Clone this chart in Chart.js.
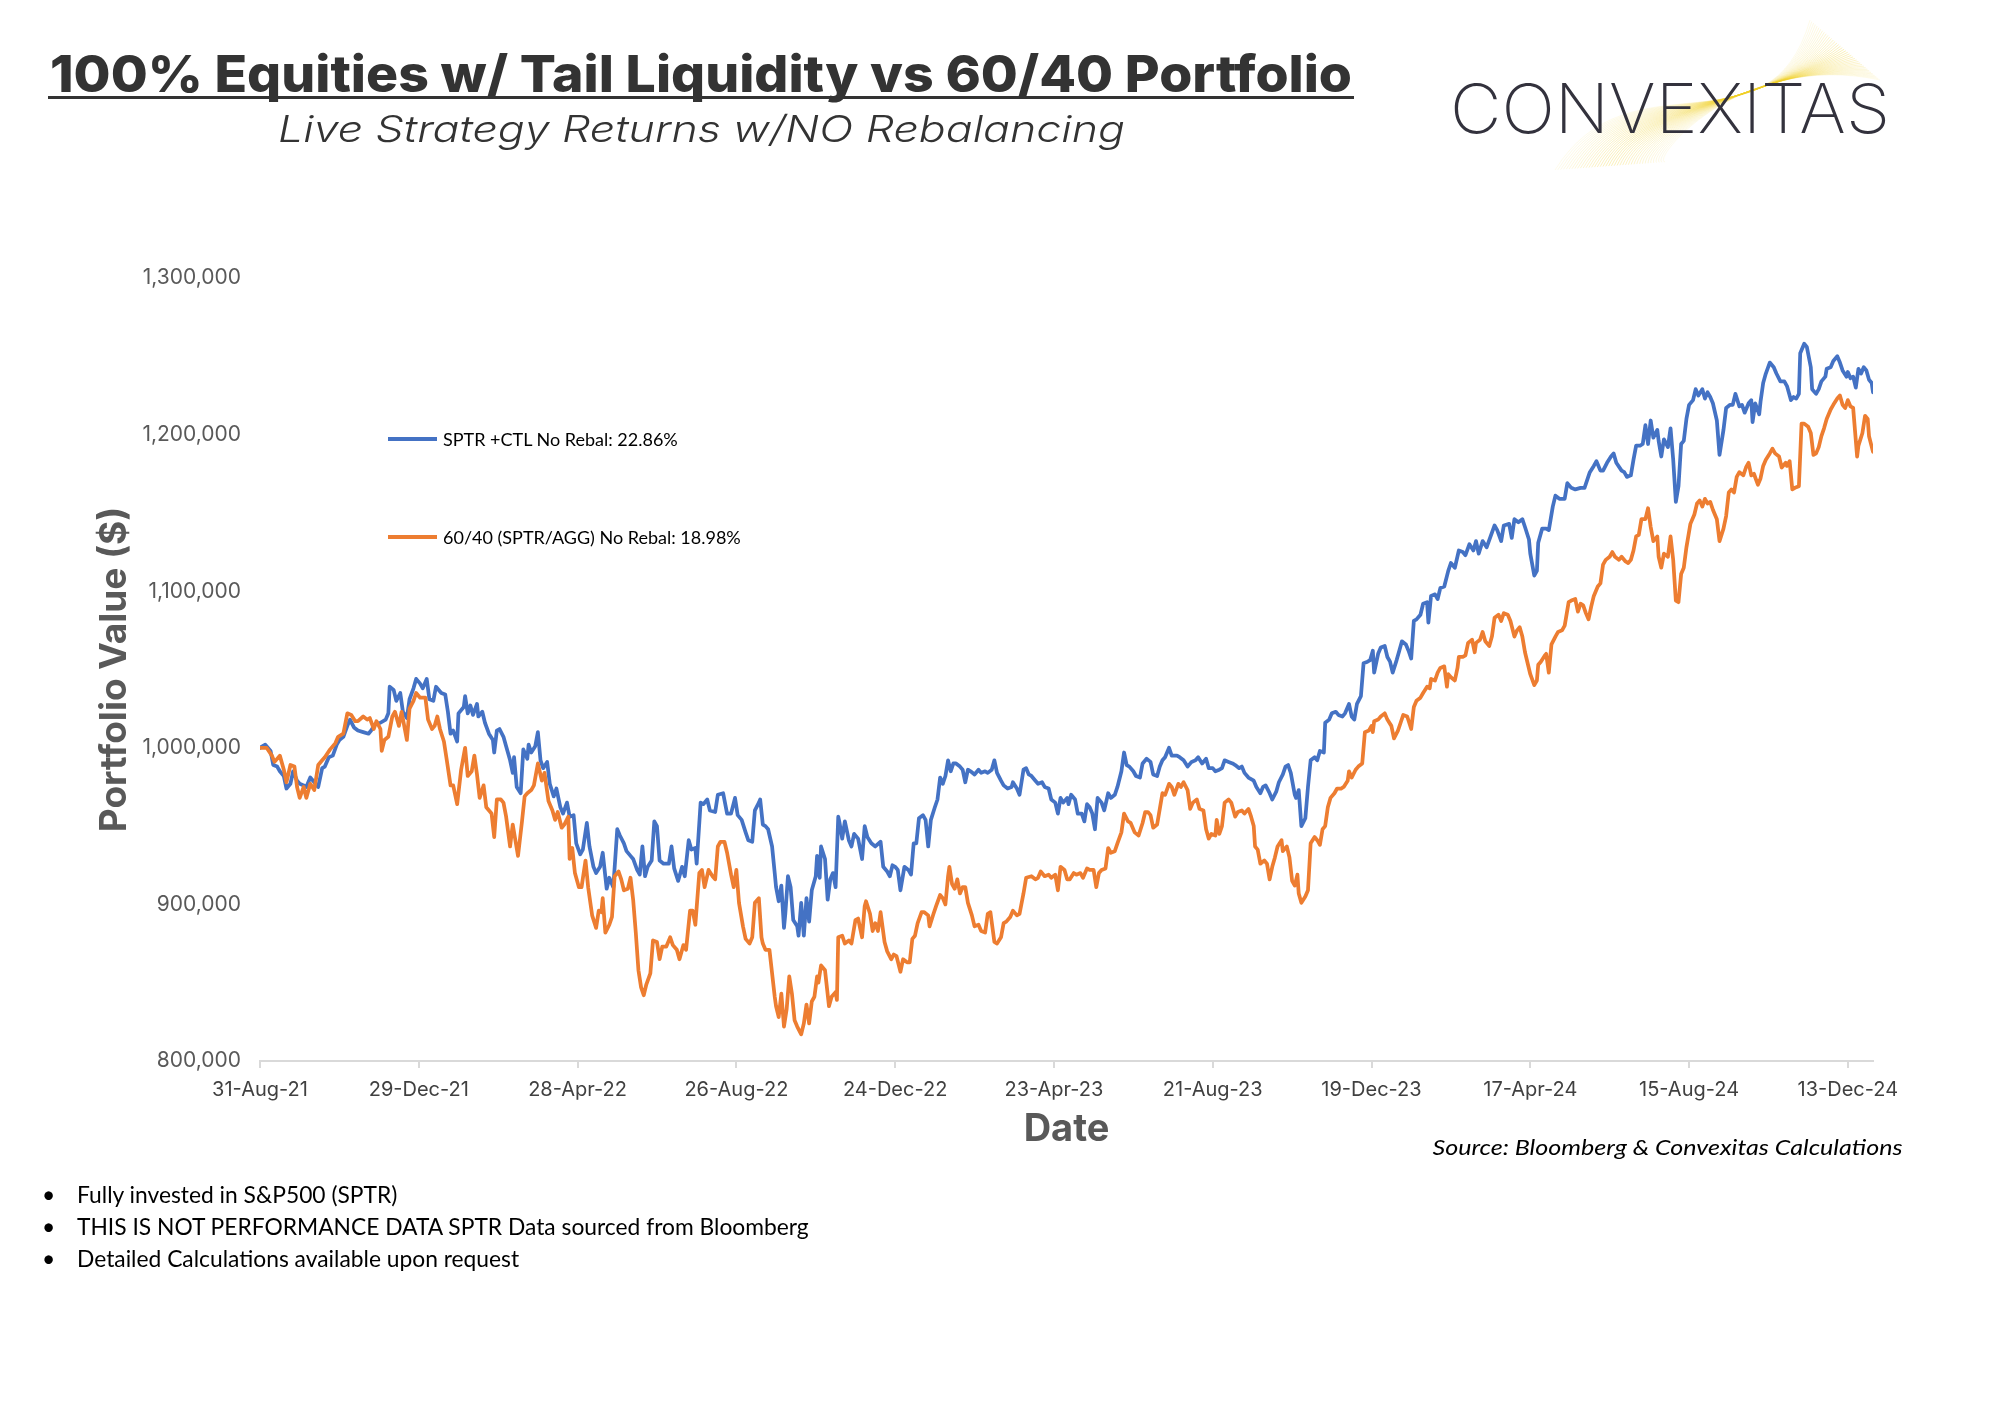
<!DOCTYPE html>
<html>
<head>
<meta charset="utf-8">
<script src="https://cdn.jsdelivr.net/npm/chart.js@4.4.1/dist/chart.umd.min.js"></script>
<style>
  html, body { margin: 0; padding: 0; background: #fff; }
  body { width: 2000px; height: 1406px; position: relative; overflow: hidden; font-family: Inter, "Open Sans", sans-serif; }
  #chartBox { position: absolute; left: 0; top: 0; width: 2000px; height: 1406px; }
  .abs { position: absolute; white-space: nowrap; line-height: 1; }
  #title { left: 50px; top: 48px; font-size: 51px; font-weight: 800; color: #333; transform-origin: left top; }
  #titleRule { position: absolute; left: 48px; top: 96px; width: 1306px; height: 3px; background: #333; }
  #subtitle { left: 278px; top: 110px; font-size: 37px; font-weight: 300; font-style: italic; color: #333; transform-origin: left top; }
  #wave { position: absolute; left: 1540px; top: 10px; }
  #logo { left: 1450px; top: 74px; font-size: 68px; font-weight: 200; color: #33323d; transform-origin: left top; }
  .legend { position: absolute; left: 388px; height: 24px; display: flex; align-items: center; font-family: Lato, sans-serif; font-size: 18px; color: #000; white-space: nowrap; }
  .legend i { display: inline-block; width: 49px; height: 4px; margin-right: 6px; }
  #source { right: 98px; top: 1136px; font-family: Lato, sans-serif; font-style: italic; font-size: 22px; color: #000; transform-origin: right top; }
  #notes { position: absolute; left: 42px; top: 1178px; font-family: Lato, sans-serif; font-size: 22.8px; color: #000; }
  #notes div { height: 32px; line-height: 32px; white-space: nowrap; }
  #notes span { display: inline-block; width: 35px; text-align: left; }
</style>
</head>
<body>
<div id="chartBox"><canvas id="chart"></canvas></div>

<div id="title" class="abs">100% Equities w/ Tail Liquidity vs 60/40 Portfolio</div>
<div id="titleRule"></div>
<div id="subtitle" class="abs">Live Strategy Returns w/NO Rebalancing</div>
<canvas id="wave" width="380" height="170"></canvas>
<div id="logo" class="abs">CONVEXITAS</div>

<div id="legend"></div>
<div id="source" class="abs">Source: Bloomberg &amp; Convexitas Calculations</div>
<div id="notes"></div>

<script>
// days counted from 31-Aug-21, values in $ thousands
const tickDays = [0, 120, 240, 360, 480, 600, 720, 840, 960, 1080, 1200];
const tickLabels = ['31-Aug-21', '29-Dec-21', '28-Apr-22', '26-Aug-22', '24-Dec-22', '23-Apr-23',
    '21-Aug-23', '19-Dec-23', '17-Apr-24', '15-Aug-24', '13-Dec-24'];
const seriesNames = ['SPTR +CTL No Rebal: 22.86%', '60/40 (SPTR/AGG) No Rebal: 18.98%'];
const seriesColors = ['#4472C4', '#ED7D31'];
const notes = ['Fully invested in S&P500 (SPTR)', 'THIS IS NOT PERFORMANCE DATA SPTR Data sourced from Bloomberg',
    'Detailed Calculations available upon request'];

const sptrCtl = [
    [0,1000],[4,1002],[8,998],[10,989],[13,988],[15,985],[18,982],[20,974],[23,977],[25,985],[28,979],[30,977],[33,976],[35,975],[38,981],[42,977],[44,975],[47,987],[49,988],[52,994],
    [55,995],[58,1002],[60,1005],[63,1007],[66,1014],[68,1018],[71,1013],[74,1011],[78,1010],[82,1009],[84,1011],[87,1015],[91,1016],[95,1018],[97,1022],[98,1039],[101,1037],[103,1030],[106,1035],[108,1023],
    [111,1019],[113,1031],[116,1038],[118,1044],[121,1041],[123,1038],[126,1044],[128,1031],[131,1030],[133,1039],[137,1035],[140,1034],[142,1023],[144,1009],[146,1011],[149,1004],[150,1022],[154,1026],[155,1033],[157,1022],
    [159,1027],[161,1021],[164,1028],[165,1020],[168,1023],[170,1016],[173,1009],[176,1005],[177,997],[179,1011],[181,1012],[184,1007],[186,1001],[189,992],[191,984],[192,994],[194,975],[197,971],[199,999],[202,993],
    [203,1002],[205,997],[208,1001],[210,1010],[212,992],[214,987],[217,991],[219,977],[222,969],[224,974],[227,962],[229,958],[232,965],[234,956],[237,957],[239,939],[242,932],[244,935],[247,952],[249,937],
    [252,924],[254,920],[257,924],[259,933],[262,910],[264,917],[267,911],[270,948],[272,944],[275,939],[277,934],[280,931],[282,929],[285,922],[287,919],[289,937],[291,918],[293,924],[296,928],[298,953],
    [300,950],[302,928],[305,926],[309,926],[311,937],[313,923],[316,915],[319,924],[321,918],[324,941],[326,935],[329,936],[330,926],[333,965],[335,964],[338,967],[340,960],[344,959],[346,970],[350,971],
    [353,958],[356,958],[359,968],[361,957],[364,954],[367,946],[369,941],[372,940],[374,960],[377,965],[378,967],[380,951],[382,950],[384,948],[387,937],[389,920],[390,911],[392,902],[394,912],[396,885],
    [397,894],[399,918],[401,911],[403,890],[406,886],[407,880],[409,901],[411,880],[413,904],[415,889],[417,909],[420,918],[421,931],[423,917],[424,937],[427,929],[429,903],[431,916],[433,920],[435,911],
    [437,956],[438,952],[440,942],[442,953],[445,941],[447,937],[449,945],[452,942],[455,929],[457,950],[459,943],[462,939],[465,937],[469,940],[471,924],[474,921],[476,918],[478,925],[480,924],[482,922],
    [484,909],[487,924],[490,922],[492,919],[494,939],[496,939],[498,955],[501,957],[503,954],[505,937],[507,954],[510,962],[512,967],[514,981],[516,977],[518,982],[520,992],[522,985],[524,990],[526,990],
    [529,988],[531,986],[533,978],[535,986],[537,985],[540,983],[543,986],[545,984],[548,985],[550,984],[553,986],[555,992],[557,984],[560,979],[562,976],[565,974],[568,975],[569,978],[572,974],[574,970],
    [577,986],[579,987],[581,983],[583,982],[586,979],[588,977],[591,978],[593,975],[596,974],[598,967],[601,965],[603,958],[605,968],[607,965],[610,968],[611,964],[613,970],[616,967],[618,958],[621,958],
    [623,953],[625,964],[627,962],[629,958],[631,948],[633,968],[636,965],[638,960],[641,971],[643,968],[646,970],[648,975],[651,985],[653,997],[655,989],[657,988],[660,985],[662,982],[665,981],[667,990],
    [670,993],[673,991],[675,983],[678,982],[680,988],[682,992],[684,994],[687,1000],[689,995],[693,995],[695,994],[698,992],[701,988],[704,991],[707,992],[709,994],[712,990],[715,993],[717,987],[720,987],
    [722,985],[725,986],[727,987],[729,992],[732,991],[735,990],[737,989],[740,987],[742,988],[744,984],[747,981],[751,979],[753,975],[756,971],[758,975],[760,976],[763,971],[765,967],[768,972],[770,978],
    [773,983],[775,988],[777,989],[779,984],[782,970],[783,968],[785,973],[787,950],[790,955],[792,975],[794,992],[797,994],[799,992],[801,998],[804,997],[805,1016],[808,1018],[810,1022],[813,1023],[815,1021],
    [818,1020],[820,1022],[823,1028],[825,1020],[827,1018],[829,1028],[832,1033],[834,1054],[837,1055],[839,1056],[841,1062],[842,1048],[845,1060],[847,1064],[850,1065],[852,1058],[854,1055],[856,1048],[859,1056],[861,1062],
    [863,1068],[866,1066],[868,1062],[870,1057],[872,1081],[874,1082],[877,1085],[879,1092],[882,1093],[883,1080],[885,1097],[888,1098],[890,1095],[892,1102],[895,1103],[898,1113],[900,1118],[903,1115],[906,1126],[909,1125],
    [911,1123],[914,1130],[917,1126],[919,1132],[921,1124],[924,1132],[927,1128],[930,1135],[933,1142],[935,1139],[938,1132],[940,1142],[944,1143],[946,1134],[948,1146],[951,1144],[954,1146],[956,1141],[959,1133],[960,1124],
    [963,1110],[965,1113],[966,1131],[969,1140],[972,1140],[974,1139],[977,1154],[979,1161],[982,1159],[986,1159],[988,1169],[991,1166],[994,1165],[998,1166],[1001,1166],[1005,1176],[1008,1180],[1010,1183],[1013,1177],[1015,1177],
    [1018,1182],[1021,1186],[1023,1188],[1025,1182],[1029,1177],[1031,1176],[1033,1173],[1036,1174],[1038,1184],[1040,1193],[1043,1193],[1045,1194],[1047,1206],[1049,1194],[1051,1209],[1053,1198],[1056,1203],[1057,1196],[1059,1186],[1061,1197],
    [1064,1192],[1066,1204],[1068,1184],[1070,1157],[1072,1167],[1074,1194],[1076,1196],[1078,1210],[1080,1219],[1083,1222],[1085,1229],[1087,1225],[1090,1229],[1092,1223],[1094,1227],[1096,1224],[1098,1220],[1101,1209],[1103,1187],[1106,1203],
    [1108,1217],[1111,1219],[1113,1219],[1115,1226],[1118,1218],[1120,1219],[1122,1214],[1125,1220],[1127,1222],[1128,1208],[1130,1220],[1133,1213],[1134,1221],[1136,1233],[1138,1239],[1141,1246],[1144,1243],[1146,1239],[1149,1234],[1152,1234],
    [1154,1231],[1157,1222],[1159,1224],[1161,1223],[1163,1226],[1164,1252],[1167,1258],[1169,1256],[1172,1243],[1173,1229],[1176,1226],[1178,1229],[1180,1234],[1183,1237],[1184,1242],[1187,1243],[1189,1247],[1192,1250],[1194,1246],[1196,1241],
    [1199,1237],[1200,1240],[1202,1236],[1204,1237],[1206,1230],[1208,1242],[1210,1239],[1212,1243],[1214,1241],[1216,1235],[1218,1233],[1219,1227]
];

const sixtyForty = [
    [0,1000],[5,1000],[9,995],[11,991],[15,995],[18,986],[20,978],[23,989],[26,988],[28,975],[30,968],[33,975],[35,968],[38,977],[41,973],[44,989],[47,992],[49,994],[53,999],[57,1003],
    [59,1007],[63,1009],[66,1022],[69,1021],[72,1017],[74,1017],[78,1020],[81,1018],[83,1019],[86,1012],[88,1017],[91,1012],[92,998],[94,1005],[97,1007],[100,1020],[102,1023],[105,1014],[107,1023],[111,1005],
    [113,1025],[116,1030],[118,1035],[121,1032],[125,1032],[127,1018],[130,1012],[132,1014],[134,1020],[136,1012],[139,1004],[141,993],[144,976],[146,976],[149,964],[152,986],[155,1000],[157,982],[160,985],[162,995],
    [164,983],[166,968],[169,976],[171,962],[175,958],[177,943],[179,967],[182,967],[184,965],[186,956],[189,937],[191,951],[195,931],[198,953],[200,969],[202,971],[205,973],[207,976],[210,990],[213,979],
    [215,984],[218,966],[221,960],[223,954],[225,959],[228,949],[230,951],[233,956],[234,929],[236,936],[238,920],[241,911],[243,911],[246,928],[248,911],[251,893],[254,885],[256,896],[258,895],[259,904],
    [261,882],[264,887],[266,892],[268,918],[271,921],[273,916],[275,909],[278,910],[280,917],[282,903],[284,882],[286,858],[288,847],[290,842],[292,849],[295,856],[297,877],[300,876],[302,865],[304,873],
    [307,873],[310,879],[312,874],[315,871],[317,865],[320,874],[322,871],[325,896],[327,896],[329,887],[332,920],[334,922],[336,911],[339,922],[342,918],[344,916],[346,937],[348,940],[351,940],[353,933],
    [356,919],[358,911],[360,922],[362,901],[365,886],[367,878],[370,875],[372,879],[374,901],[377,904],[379,879],[380,875],[382,871],[385,871],[387,856],[389,841],[390,835],[392,828],[394,843],[396,822],
    [398,833],[400,854],[402,843],[404,826],[406,822],[409,817],[411,824],[413,836],[415,824],[417,838],[419,841],[421,854],[422,850],[424,861],[427,858],[430,835],[432,841],[435,844],[436,839],[437,879],
    [440,880],[442,875],[445,877],[447,875],[450,890],[452,891],[455,879],[457,899],[458,902],[461,894],[463,883],[465,888],[467,883],[469,895],[472,876],[474,870],[477,865],[479,868],[481,867],[484,857],
    [486,865],[489,863],[491,863],[493,878],[495,880],[497,888],[500,895],[502,895],[505,893],[506,886],[509,894],[511,899],[514,906],[516,904],[518,900],[520,918],[521,924],[523,913],[525,910],[527,916],
    [529,907],[531,911],[533,911],[535,901],[538,893],[540,886],[543,887],[545,883],[548,882],[550,894],[552,895],[555,876],[557,875],[560,879],[562,888],[564,889],[567,892],[569,896],[572,893],[574,894],
    [577,907],[579,917],[583,918],[586,916],[588,917],[590,921],[593,918],[596,919],[598,917],[601,919],[603,909],[605,924],[608,922],[610,916],[612,916],[615,920],[617,919],[620,920],[622,917],[625,923],
    [627,922],[630,922],[632,911],[634,920],[636,922],[639,923],[641,936],[643,933],[646,934],[648,939],[651,946],[653,958],[656,953],[658,952],[661,946],[664,944],[667,952],[669,959],[671,959],[673,957],
    [675,949],[678,951],[680,961],[682,971],[684,970],[687,977],[689,975],[691,970],[694,977],[696,975],[698,978],[701,973],[703,961],[705,965],[708,967],[710,961],[713,960],[715,948],[717,942],[719,945],
    [722,944],[723,954],[725,945],[727,950],[729,965],[732,967],[734,965],[737,956],[739,959],[742,960],[744,958],[747,961],[749,956],[751,950],[752,937],[754,935],[756,926],[759,928],[761,926],[763,916],
    [765,924],[767,930],[769,937],[772,941],[773,934],[776,937],[778,930],[780,915],[782,912],[784,919],[785,907],[787,901],[790,905],[792,909],[794,939],[797,943],[799,941],[801,938],[803,948],[805,950],
    [807,962],[809,968],[812,971],[814,974],[817,974],[819,975],[822,979],[823,985],[825,981],[828,986],[830,988],[833,990],[835,1010],[838,1011],[840,1014],[841,1010],[842,1017],[845,1018],[847,1020],[850,1022],
    [852,1018],[855,1014],[857,1006],[860,1011],[862,1016],[864,1021],[867,1020],[870,1012],[872,1026],[874,1030],[877,1032],[879,1035],[882,1039],[884,1038],[885,1044],[888,1043],[890,1048],[892,1051],[895,1052],[897,1039],
    [898,1047],[900,1045],[903,1043],[905,1051],[906,1058],[909,1058],[911,1059],[913,1067],[916,1069],[918,1061],[919,1067],[922,1069],[924,1074],[926,1068],[929,1065],[931,1071],[933,1083],[936,1085],[938,1081],[940,1086],
    [943,1085],[945,1081],[948,1071],[950,1075],[952,1077],[954,1071],[956,1061],[958,1054],[960,1047],[963,1040],[965,1043],[966,1053],[968,1055],[971,1059],[972,1060],[974,1048],[976,1066],[979,1071],[981,1074],[984,1075],
    [986,1078],[989,1093],[991,1094],[994,1095],[996,1087],[998,1092],[1000,1091],[1002,1086],[1004,1082],[1006,1090],[1008,1097],[1011,1103],[1013,1105],[1015,1117],[1017,1120],[1020,1122],[1022,1125],[1024,1122],[1027,1120],[1029,1122],
    [1032,1119],[1034,1118],[1036,1120],[1038,1126],[1040,1135],[1042,1136],[1044,1146],[1047,1146],[1049,1153],[1051,1141],[1053,1132],[1056,1135],[1057,1122],[1059,1115],[1061,1124],[1064,1122],[1066,1135],[1068,1120],[1070,1094],[1072,1093],
    [1074,1111],[1076,1115],[1078,1128],[1081,1143],[1084,1149],[1086,1156],[1088,1158],[1090,1154],[1092,1159],[1094,1156],[1096,1157],[1098,1152],[1101,1146],[1103,1132],[1106,1140],[1108,1148],[1110,1163],[1112,1165],[1114,1163],[1116,1173],
    [1118,1176],[1121,1174],[1123,1179],[1125,1182],[1127,1174],[1129,1175],[1132,1168],[1134,1172],[1136,1180],[1138,1184],[1141,1188],[1143,1191],[1145,1188],[1148,1186],[1150,1179],[1153,1182],[1154,1180],[1156,1183],[1158,1165],[1160,1166],
    [1163,1167],[1165,1207],[1167,1207],[1170,1205],[1172,1201],[1174,1187],[1176,1188],[1178,1192],[1180,1199],[1182,1204],[1184,1210],[1187,1216],[1189,1219],[1192,1223],[1194,1225],[1196,1219],[1198,1217],[1200,1222],[1202,1218],[1204,1217],
    [1207,1186],[1208,1193],[1211,1201],[1213,1212],[1215,1210],[1216,1199],[1219,1189]
];

const yMin = 800000;
const yMax = 1300000;
const yStep = 100000;
const xMax = 1219;

function toPoints(rows) {
    return rows.map(r => ({ x: r[0], y: r[1] * 1000 }));
}

Chart.defaults.font.family = 'Inter, "Open Sans", sans-serif';

new Chart(document.getElementById('chart'), {
    type: 'line',
    data: {
        datasets: [
            { label: seriesNames[0], data: toPoints(sptrCtl), borderColor: seriesColors[0], order: 1 },
            { label: seriesNames[1], data: toPoints(sixtyForty), borderColor: seriesColors[1], order: 0 }
        ]
    },
    options: {
        responsive: true,
        maintainAspectRatio: false,
        devicePixelRatio: 1,
        animation: false,
        layout: { padding: { left: 60, top: 278, right: 2000 - 1873, bottom: 245 } },
        elements: {
            line: { borderWidth: 3.75, tension: 0, borderJoinStyle: 'round', borderCapStyle: 'round' },
            point: { radius: 0 }
        },
        plugins: {
            legend: { display: false },
            tooltip: { enabled: false }
        },
        scales: {
            x: {
                type: 'linear',
                min: 0,
                max: xMax,
                afterFit: (scale) => { scale.height = 100; },
                afterBuildTicks: (scale) => { scale.ticks = tickDays.map(v => ({ value: v })); },
                ticks: {
                    autoSkip: false,
                    maxRotation: 0,
                    padding: 10,
                    color: '#404040',
                    font: { size: 20 },
                    callback: (value) => tickLabels[tickDays.indexOf(value)]
                },
                grid: { drawOnChartArea: false, drawTicks: true, tickLength: 7, color: '#d9d9d9', lineWidth: 2 },
                border: { display: true, color: '#d9d9d9', width: 2 },
                title: {
                    display: true,
                    text: 'Date',
                    color: '#595959',
                    font: { size: 38, weight: 'bold' },
                    padding: { top: 0, bottom: 9 }
                }
            },
            y: {
                min: yMin,
                max: yMax,
                afterFit: (scale) => { scale.width = 200; },
                ticks: {
                    stepSize: yStep,
                    padding: 19,
                    color: '#595959',
                    font: { size: 21 },
                    callback: (value) => value.toLocaleString('en-US')
                },
                grid: { display: false, drawTicks: false },
                border: { display: false },
                title: {
                    display: true,
                    text: 'Portfolio Value ($)',
                    color: '#595959',
                    font: { size: 37, weight: 'bold' },
                    padding: { top: 33, bottom: 0 }
                }
            }
        }
    }
});

// legend inside the plot
const legendTops = [427, 525];
const legendBox = document.getElementById('legend');
seriesNames.forEach((name, i) => {
    const row = document.createElement('div');
    row.className = 'legend';
    row.style.top = legendTops[i] + 'px';
    row.innerHTML = '<i style="background:' + seriesColors[i] + '"></i>';
    row.appendChild(document.createTextNode(name));
    legendBox.appendChild(row);
});

// bullet notes
const notesBox = document.getElementById('notes');
notes.forEach((text) => {
    const row = document.createElement('div');
    row.innerHTML = '<span>&bull;</span>';
    row.appendChild(document.createTextNode(text));
    notesBox.appendChild(row);
});

// logo wave: a twisted ribbon of thin lines
const wave = document.getElementById('wave').getContext('2d');
for (let i = 0; i < 40; i++) {
    const t = i / 39;
    const mid = 1 - Math.abs(t - 0.5) * 2;
    wave.strokeStyle = 'rgba(240, 208, 40, ' + (0.12 + 0.3 * mid) + ')';
    wave.lineWidth = 0.8;
    wave.beginPath();
    wave.moveTo(15 + t * 110, 160 - t * 8);
    wave.bezierCurveTo(90 + t * 20, 40 + t * 110, 230 - t * 30, 150 - t * 110, 270 + t * 70, 10 + t * 60);
    wave.stroke();
}

function fitWidth(id, width) {
    const el = document.getElementById(id);
    const w = el.getBoundingClientRect().width;
    el.style.transform = 'scaleX(' + (width / w) + ')';
}
fitWidth('title', 1302);
fitWidth('subtitle', 847);
fitWidth('logo', 440);
fitWidth('source', 470);
</script>
</body>
</html>
